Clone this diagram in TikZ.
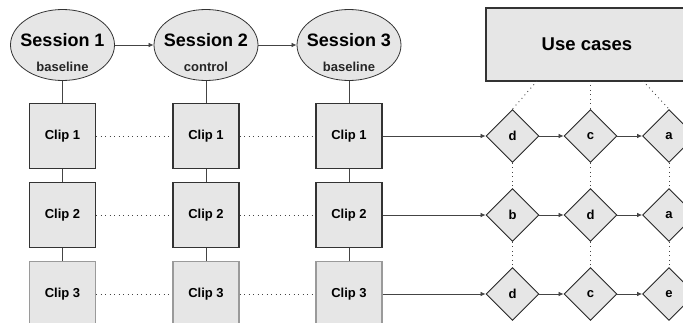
\documentclass[tikz,border=0pt]{standalone}
\usepackage{fontspec}
\setmainfont{Liberation Sans}
\usetikzlibrary{shapes.geometric,arrows.meta}
\definecolor{boxfill}{HTML}{E6E6E6}
\definecolor{edge}{HTML}{333333}
\definecolor{lightedge}{HTML}{9A9A9A}
\definecolor{conn}{HTML}{444444}
\tikzset{
  sess/.style={ellipse,draw=edge,fill=boxfill,line width=0.8pt,minimum width=104pt,minimum height=71pt,inner sep=0pt},
  sesstitle/.style={font=\fontsize{18}{20}\selectfont\bfseries,text=black,inner sep=0pt},
  sesssub/.style={font=\fontsize{13}{15}\selectfont\bfseries,text=black!85,inner sep=0pt},
  clipbox/.style={rectangle,draw=edge,fill=boxfill,line width=1.2pt,minimum width=66pt,minimum height=65pt,inner sep=0pt,font=\fontsize{13}{15}\selectfont\bfseries},
  clipboxlight/.style={clipbox,draw=lightedge},
  usebox/.style={rectangle,draw=edge,fill=boxfill,line width=1.2pt,minimum width=202pt,minimum height=73pt,inner sep=0pt,font=\fontsize{18.5}{20}\selectfont\bfseries},
  uc/.style={diamond,draw=black!85,fill=boxfill,line width=0.9pt,minimum width=53pt,minimum height=53pt,inner sep=0pt,font=\fontsize{13}{15}\selectfont\bfseries},
  solidline/.style={draw=conn,line width=0.7pt},
  dotline/.style={draw=conn,line width=0.9pt,dash pattern=on 0.9pt off 3.6pt},
  arr/.style={draw=conn,line width=0.7pt,-{Latex[length=5pt,width=4.5pt]}},
}
\begin{document}
\begin{tikzpicture}[x=1pt,y=-1pt]
\useasboundingbox (0,0) rectangle (683,323);
% sessions
\node[sess] (s1) at (62.5,45) {};
\node[sess] (s2) at (206,45) {};
\node[sess] (s3) at (349,45) {};
\node[sesstitle] (s1t) at (62.5,40) {Session 1};
\node[sesssub] (s1s) at (62.5,67) {baseline};
\node[sesstitle] (s2t) at (206,40) {Session 2};
\node[sesssub] (s2s) at (206,67) {control};
\node[sesstitle] (s3t) at (349,40) {Session 3};
\node[sesssub] (s3s) at (349,67) {baseline};
\draw[arr] (s1) -- (s2);
\draw[arr] (s2) -- (s3);
% clips
\foreach \c/\x in {1/62.5,2/206,3/349}{
  \node[clipbox] (c\c r1) at (\x,136) {Clip 1};
  \node[clipbox] (c\c r2) at (\x,215) {Clip 2};
  \node[clipboxlight] (c\c r3) at (\x,294) {Clip 3};
}
\foreach \c in {1,2,3}{
  \draw[solidline] (s\c) -- (c\c r1);
  \draw[solidline] (c\c r1) -- (c\c r2);
  \draw[solidline] (c\c r2) -- (c\c r3);
}
\foreach \r in {1,2,3}{
  \draw[dotline] (c1r\r) -- (c2r\r);
  \draw[dotline] (c2r\r) -- (c3r\r);
}
% use cases
\node[usebox] (use) at (587,44.5) {Use cases};
\node[uc] (d11) at (512.5,136) {d};
\node[uc] (d12) at (590.5,136) {c};
\node[uc] (d13) at (669,136) {a};
\node[uc] (d21) at (512.5,215) {b};
\node[uc] (d22) at (590.5,215) {d};
\node[uc] (d23) at (669,215) {a};
\node[uc] (d31) at (512.5,294) {d};
\node[uc] (d32) at (590.5,294) {c};
\node[uc] (d33) at (669,294) {e};
\foreach \r in {1,2,3}{
  \draw[arr] (c3r\r) -- (d\r1);
  \draw[arr] (d\r1) -- (d\r2);
  \draw[arr] (d\r2) -- (d\r3);
}
\coordinate (u1) at (537,81);
\coordinate (u2) at (590.5,81);
\coordinate (u3) at (643,81);
\draw[dotline] (u1) -- (d11.north);
\draw[dotline] (u2) -- (d12.north);
\draw[dotline] (u3) -- (d13.north);
\foreach \k in {1,2,3}{
  \draw[dotline] (d1\k) -- (d2\k);
  \draw[dotline] (d2\k) -- (d3\k);
}
\end{tikzpicture}
\end{document}
